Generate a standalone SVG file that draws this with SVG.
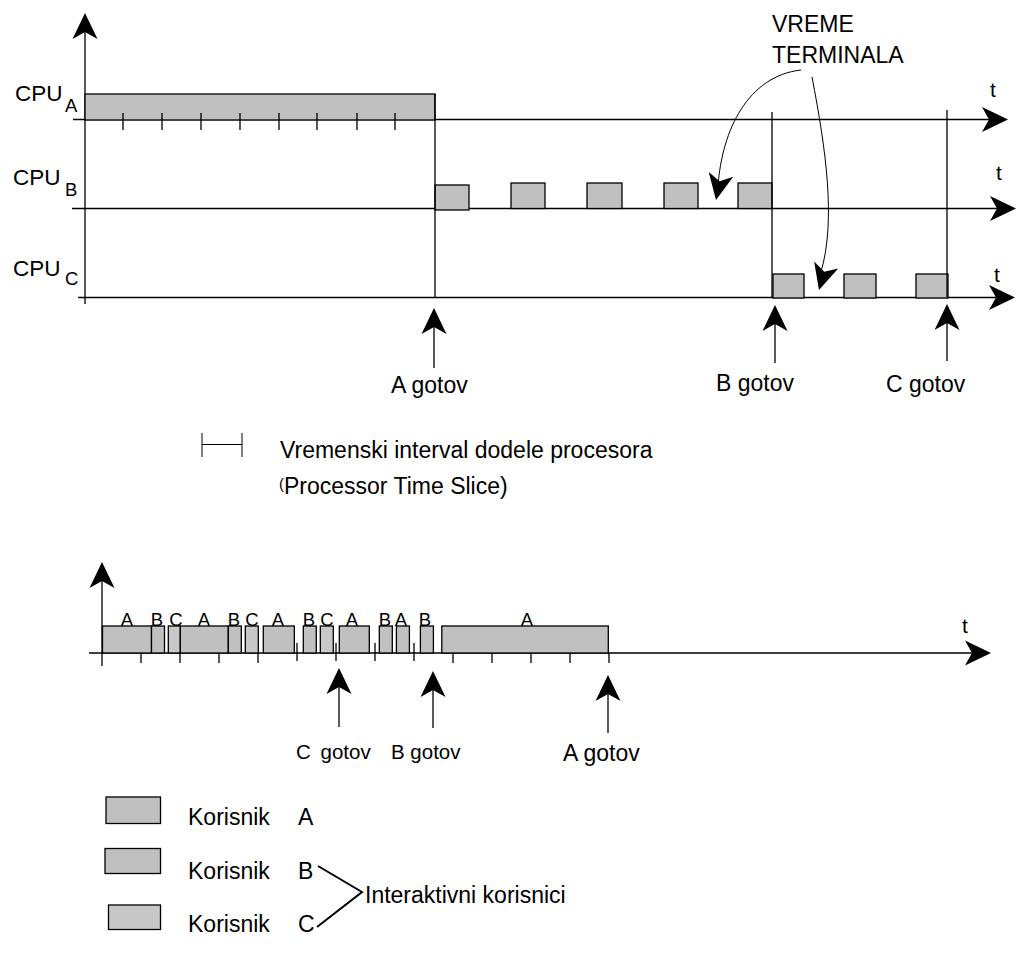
<svg xmlns="http://www.w3.org/2000/svg" xmlns:xlink="http://www.w3.org/1999/xlink" width="1024" height="970" viewBox="0 0 1024 970">
<defs>
<style>
text{font-family:"Liberation Sans",Arial,sans-serif;fill:#000}
.ln{stroke:#000;stroke-width:1.3;fill:none}
.thin{stroke:#000;stroke-width:1;fill:none}
.bx{fill:#c0c0c0;stroke:#000;stroke-width:1.3}
.bx2{fill:#c8c8c8;stroke:#000;stroke-width:1.3}
.t23{font-size:23px}
.t20{font-size:20.5px}
.t17{font-size:18.5px}
</style>
<path id="ah" d="M0,0 L-12.5,26 L0,19 L12.5,26 Z" fill="#000"/>
</defs>
<rect width="1024" height="970" fill="#fff"/>

<!-- top chart -->
<g id="top-axes">
<line class="ln" x1="85" y1="304" x2="85" y2="28"/>
<use xlink:href="#ah" transform="translate(85,13)"/>
<line class="ln" x1="73" y1="119.5" x2="992" y2="119.5"/>
<use xlink:href="#ah" transform="translate(1008,119.5) rotate(90)"/>
<line class="ln" x1="72" y1="208.5" x2="1000" y2="208.5"/>
<use xlink:href="#ah" transform="translate(1016,208.5) rotate(90)"/>
<line class="ln" x1="78" y1="297.5" x2="1000" y2="297.5"/>
<use xlink:href="#ah" transform="translate(1015,297.5) rotate(90)"/>
<text x="990" y="97" font-size="21">t</text>
<text x="996" y="180" font-size="21">t</text>
<text x="994" y="282" font-size="21">t</text>
</g>

<g id="cpu-labels">
<text x="15" y="101" font-size="22.5">CPU</text><text x="65" y="112" font-size="18.5">A</text>
<text x="13" y="185" font-size="22.5">CPU</text><text x="65" y="196" font-size="18.5">B</text>
<text x="13" y="276" font-size="22.5">CPU</text><text x="65" y="285" font-size="18.5">C</text>
</g>

<g id="cpu-a">
<rect class="bx" x="85" y="94" width="350" height="26"/>
<path class="ln" d="M123,113V130M162,113V130M201,113V130M240,113V130M279,113V130M317,113V130M357,113V130M395,113V130"/>
</g>

<g id="cpu-b">
<rect class="bx" x="435" y="185" width="34" height="25"/>
<rect class="bx" x="511" y="183" width="34" height="25.5"/>
<rect class="bx" x="587" y="183" width="35" height="25.5"/>
<rect class="bx" x="664" y="183" width="34" height="25.5"/>
<rect class="bx" x="738" y="183" width="34" height="25.5"/>
</g>

<g id="cpu-c">
<rect class="bx" x="773" y="274" width="31" height="24"/>
<rect class="bx" x="844" y="274" width="32" height="24"/>
<rect class="bx" x="916" y="274" width="32" height="24"/>
</g>

<g id="switch-lines">
<line class="ln" x1="435" y1="94" x2="435" y2="297"/>
<line class="ln" x1="772" y1="112" x2="772" y2="297"/>
<line class="ln" x1="947" y1="110" x2="947" y2="297"/>
</g>

<g id="terminal-time">
<text class="t23" x="772" y="32">VREME</text>
<text class="t23" x="772" y="63">TERMINALA</text>
<path class="thin" d="M801,70 C748,76 722,130 718,186"/>
<use xlink:href="#ah" transform="translate(716,200) rotate(191)"/>
<path class="thin" d="M812,77 C826,150 836,220 821,272"/>
<use xlink:href="#ah" transform="translate(819,290) rotate(196)"/>
</g>

<g id="top-done">
<line class="ln" x1="434" y1="368" x2="434" y2="322"/>
<use xlink:href="#ah" transform="translate(434,308)"/>
<text class="t23" x="391" y="393">A gotov</text>
<line class="ln" x1="775" y1="363" x2="775" y2="320"/>
<use xlink:href="#ah" transform="translate(775,305)"/>
<text class="t23" x="716" y="391">B gotov</text>
<line class="ln" x1="947" y1="361" x2="947" y2="318"/>
<use xlink:href="#ah" transform="translate(947,304)"/>
<text class="t23" x="886" y="392">C gotov</text>
</g>

<g id="slice-legend">
<path class="thin" d="M202,433V457M242,433V457M202,444.5H242"/>
<text class="t23" x="280" y="458">Vremenski interval dodele procesora</text>
<text class="t23" x="279" y="494"><tspan font-size="15" dy="-5">(</tspan><tspan dy="5">Processor Time Slice)</tspan></text>
</g>

<!-- bottom chart -->
<g id="bottom-axes">
<line class="ln" x1="102" y1="666" x2="102" y2="577"/>
<use xlink:href="#ah" transform="translate(102,562)"/>
<line class="ln" x1="89" y1="653" x2="976" y2="653"/>
<use xlink:href="#ah" transform="translate(991,653) rotate(90)"/>
<text x="962" y="633" font-size="21">t</text>
<path class="ln" d="M141,653V663M180,653V663M219,653V663M258,653V663M297,643V661M336,643V661M375,643V661M414,643V661M453,653V663M492,653V663M531,653V663M570,653V663M609,653V663"/>
</g>

<g id="bottom-slices">
<rect class="bx" x="102.5" y="626" width="49" height="27"/>
<rect class="bx" x="151.5" y="626" width="13" height="27"/>
<rect class="bx2" x="168.3" y="626" width="12" height="27"/>
<rect class="bx" x="180.3" y="626" width="48" height="27"/>
<rect class="bx" x="228.3" y="626" width="13" height="27"/>
<rect class="bx2" x="245.3" y="626" width="13" height="27"/>
<rect class="bx" x="263.3" y="626" width="31" height="27"/>
<rect class="bx" x="303.3" y="626" width="13" height="27"/>
<rect class="bx2" x="320.3" y="626" width="13" height="27"/>
<rect class="bx" x="339.3" y="626" width="30" height="27"/>
<rect class="bx" x="379.3" y="626" width="13" height="27"/>
<rect class="bx" x="396.4" y="626" width="13" height="27"/>
<rect class="bx" x="420.4" y="626" width="13" height="27"/>
<rect class="bx" x="441.8" y="626" width="166.5" height="27"/>
<g class="t17" text-anchor="middle">
<text x="127" y="626">A</text>
<text x="157" y="626">B</text>
<text x="176" y="626">C</text>
<text x="204" y="626">A</text>
<text x="234" y="626">B</text>
<text x="252" y="626">C</text>
<text x="278" y="626">A</text>
<text x="309" y="626">B</text>
<text x="327" y="626">C</text>
<text x="352" y="626">A</text>
<text x="385" y="626">B</text>
<text x="401" y="626">A</text>
<text x="425" y="626">B</text>
<text x="527" y="626">A</text>
</g>
</g>

<g id="bottom-done">
<line class="ln" x1="339" y1="727" x2="339" y2="682"/>
<use xlink:href="#ah" transform="translate(339,668)"/>
<text class="t20" x="296" y="759" word-spacing="4">C gotov</text>
<line class="ln" x1="433" y1="728" x2="433" y2="686"/>
<use xlink:href="#ah" transform="translate(433,671)"/>
<text class="t20" x="391" y="759">B gotov</text>
<line class="ln" x1="608" y1="733" x2="608" y2="689"/>
<use xlink:href="#ah" transform="translate(608,675)"/>
<text class="t23" x="563" y="761">A gotov</text>
</g>

<g id="user-legend">
<rect class="bx" x="106" y="797" width="54.5" height="26.5"/>
<text class="t23" x="188" y="825">Korisnik</text><text class="t23" x="298" y="825">A</text>
<rect class="bx" x="105" y="848.5" width="55.5" height="25"/>
<text class="t23" x="188" y="879">Korisnik</text><text class="t23" x="298" y="879">B</text>
<rect class="bx2" x="108.5" y="905" width="52" height="24.5"/>
<text class="t23" x="188" y="932">Korisnik</text><text class="t23" x="298" y="932">C</text>
<path d="M318,866 L362,892 L317,927" stroke="#000" stroke-width="2" fill="none"/>
<text class="t23" x="365" y="903">Interaktivni korisnici</text>
</g>
</svg>
